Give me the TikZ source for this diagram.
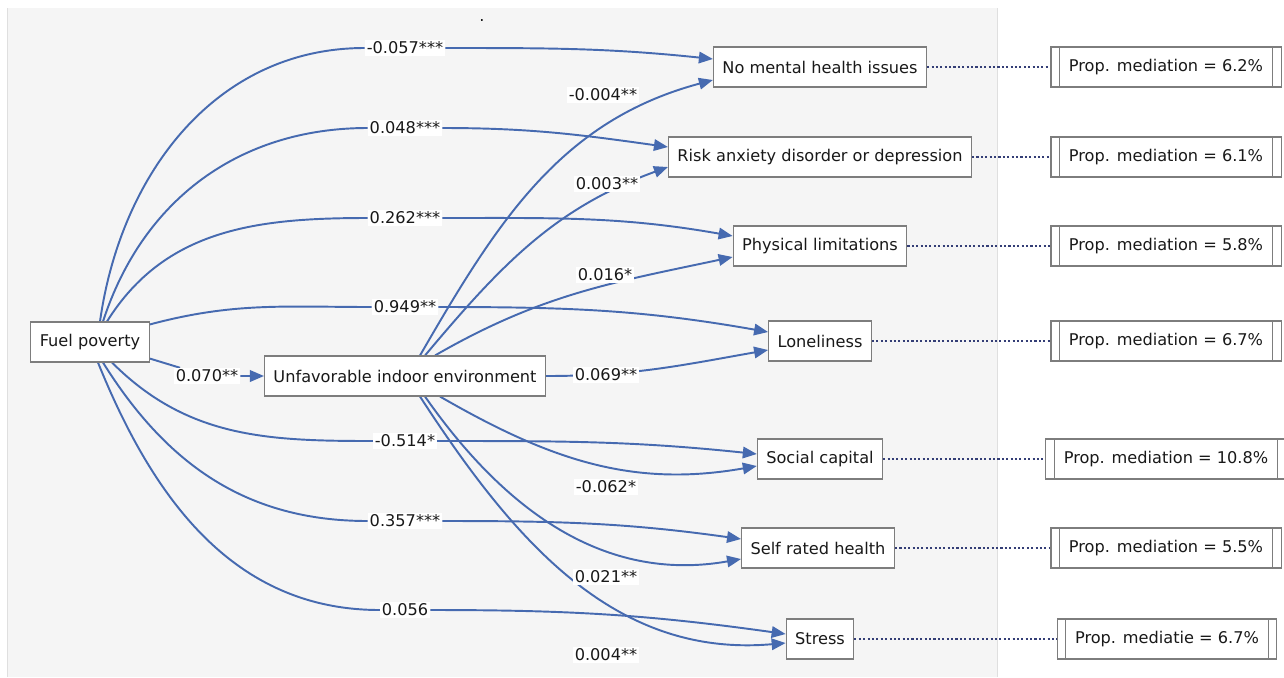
\documentclass[tikz,border=0pt]{standalone}
\usepackage{fontspec}
\setmainfont{DejaVu Sans}
\usetikzlibrary{arrows.meta,calc}
\definecolor{pathblue}{RGB}{70,106,176}
\definecolor{dotblue}{RGB}{52,62,118}
\definecolor{boxgray}{RGB}{125,125,125}
\definecolor{panel}{RGB}{245,245,245}
\definecolor{txt}{RGB}{25,25,25}
\pgfdeclarelayer{back}
\pgfsetlayers{back,main}

\begin{document}
\begin{tikzpicture}[x=0.02cm, y=-0.02cm,
    every node/.style={font=\fontsize{9.2}{11}\selectfont, text=txt},
    varbox/.style={draw=boxgray, fill=white, line width=0.6pt, minimum height=0.8cm, inner xsep=0.18cm},
    propbox/.style={varbox, inner xsep=0.36cm},
    coef/.style={fill=white, inner sep=1pt},
    effect/.style={draw=pathblue, line width=1.1pt, -{Triangle[length=2.8mm,width=2.3mm]}},
    dotlink/.style={draw=dotblue, line width=1.3pt, dash pattern=on 1.2pt off 1.3pt}]
	\useasboundingbox (0,0) rectangle (1284,677);
	\begin{pgfonlayer}{back}
		\fill[panel] (7,8) rectangle (997,677);
		\draw[gray!25] (7,8) -- (7,677) (997,8) -- (997,677);
	\end{pgfonlayer}

	\node (dot) at (482,20) {.};

	\node[varbox] (fp) at (90,342) {Fuel poverty};
	\node[varbox] (uie) at (405,376) {Unfavorable indoor environment};
	\node[varbox] (nm) at (820,67) {No mental health issues};
	\node[varbox] (rad) at (820,157) {Risk anxiety disorder or depression};
	\node[varbox] (pl) at (820,246) {Physical limitations};
	\node[varbox] (lo) at (820,341) {Loneliness};
	\node[varbox] (sc) at (820,459) {Social capital};
	\node[varbox] (srh) at (818,548) {Self rated health};
	\node[varbox] (st) at (820,639) {Stress};

	\node[propbox] (pnm) at (1166,67) {Prop. mediation = 6.2\%};
	\node[propbox] (prad) at (1166,157) {Prop. mediation = 6.1\%};
	\node[propbox] (ppl) at (1166,246) {Prop. mediation = 5.8\%};
	\node[propbox] (plo) at (1166,341) {Prop. mediation = 6.7\%};
	\node[propbox] (psc) at (1166,459) {Prop. mediation = 10.8\%};
	\node[propbox] (psrh) at (1166,548) {Prop. mediation = 5.5\%};
	\node[propbox] (pst) at (1167,639) {Prop. mediatie = 6.7\%};
	\foreach \n in {pnm,prad,ppl,plo,psc,psrh,pst}
		\draw[boxgray, line width=0.6pt] ([xshift=0.18cm]\n.north west) -- ([xshift=0.18cm]\n.south west)
			([xshift=-0.18cm]\n.north east) -- ([xshift=-0.18cm]\n.south east);

	\node[coef] (c1) at (405,48) {-0.057***};
	\node[coef] (c2) at (405,128) {0.048***};
	\node[coef] (c3) at (405,218) {0.262***};
	\node[coef] (c4) at (405,307) {0.949**};
	\node[coef] (c5) at (207,376) {0.070**};
	\node[coef] (c6) at (405,441) {-0.514*};
	\node[coef] (c7) at (405,521) {0.357***};
	\node[coef] (c8) at (405,610) {0.056};

	\node[coef] (d1) at (603,95) {-0.004**};
	\node[coef] (d2) at (607,184) {0.003**};
	\node[coef] (d3) at (605,275) {0.016*};
	\node[coef] (d4) at (606,375) {0.069**};
	\node[coef] (d5) at (606,487) {-0.062*};
	\node[coef] (d6) at (606,577) {0.021**};
	\node[coef] (d7) at (606,655) {0.004**};

	\begin{pgfonlayer}{back}
		\draw[effect] ($(fp.north)+(10,0)$) to[out=82,in=180] (c1) to[out=0,in=174] ($(nm.west)+(0,-8)$);
		\draw[effect] ($(fp.north)+(13,0)$) to[out=72,in=180] (c2) to[out=0,in=172] ($(rad.west)+(0,-10)$);
		\draw[effect] ($(fp.north)+(17,0)$) to[out=58,in=180] (c3) to[out=0,in=170] ($(pl.west)+(0,-10)$);
		\draw[effect] ($(fp.north east)+(0,3)$) to[out=15,in=180] (c4) to[out=0,in=170] ($(lo.west)+(0,-9)$);
		\draw[effect] ($(fp.south east)+(0,-4)$) -- (c5) -- (uie.west);
		\draw[effect] ($(fp.south)+(22,0)$) to[out=-45,in=180] (c6) to[out=0,in=174] ($(sc.west)+(0,-5)$);
		\draw[effect] ($(fp.south)+(13,0)$) to[out=-58,in=180] (c7) to[out=0,in=172] ($(srh.west)+(0,-9)$);
		\draw[effect] ($(fp.south)+(8,0)$) to[out=-68,in=180] (c8) to[out=0,in=172] ($(st.west)+(0,-5)$);

		\draw[effect] ($(uie.north)+(15,0)$) to[out=60,in=195] ($(nm.west)+(0,13)$);
		\draw[effect] ($(uie.north)+(20,0)$) to[out=50,in=200] ($(rad.west)+(0,10)$);
		\draw[effect] ($(uie.north)+(30,0)$) to[out=30,in=192] ($(pl.west)+(0,11)$);
		\draw[effect] (uie.east) to[out=0,in=190] ($(lo.west)+(0,9)$);
		\draw[effect] ($(uie.south)+(35,0)$) to[out=-30,in=190] ($(sc.west)+(0,7)$);
		\draw[effect] ($(uie.south)+(20,0)$) to[out=-55,in=190] ($(srh.west)+(0,11)$);
		\draw[effect] ($(uie.south)+(15,0)$) to[out=-57,in=185] ($(st.west)+(0,4)$);

		\foreach \a/\b in {nm/pnm,rad/prad,pl/ppl,lo/plo,sc/psc,srh/psrh,st/pst}
			\draw[dotlink] (\a.east) -- (\b.west);
	\end{pgfonlayer}
\end{tikzpicture}
\end{document}
